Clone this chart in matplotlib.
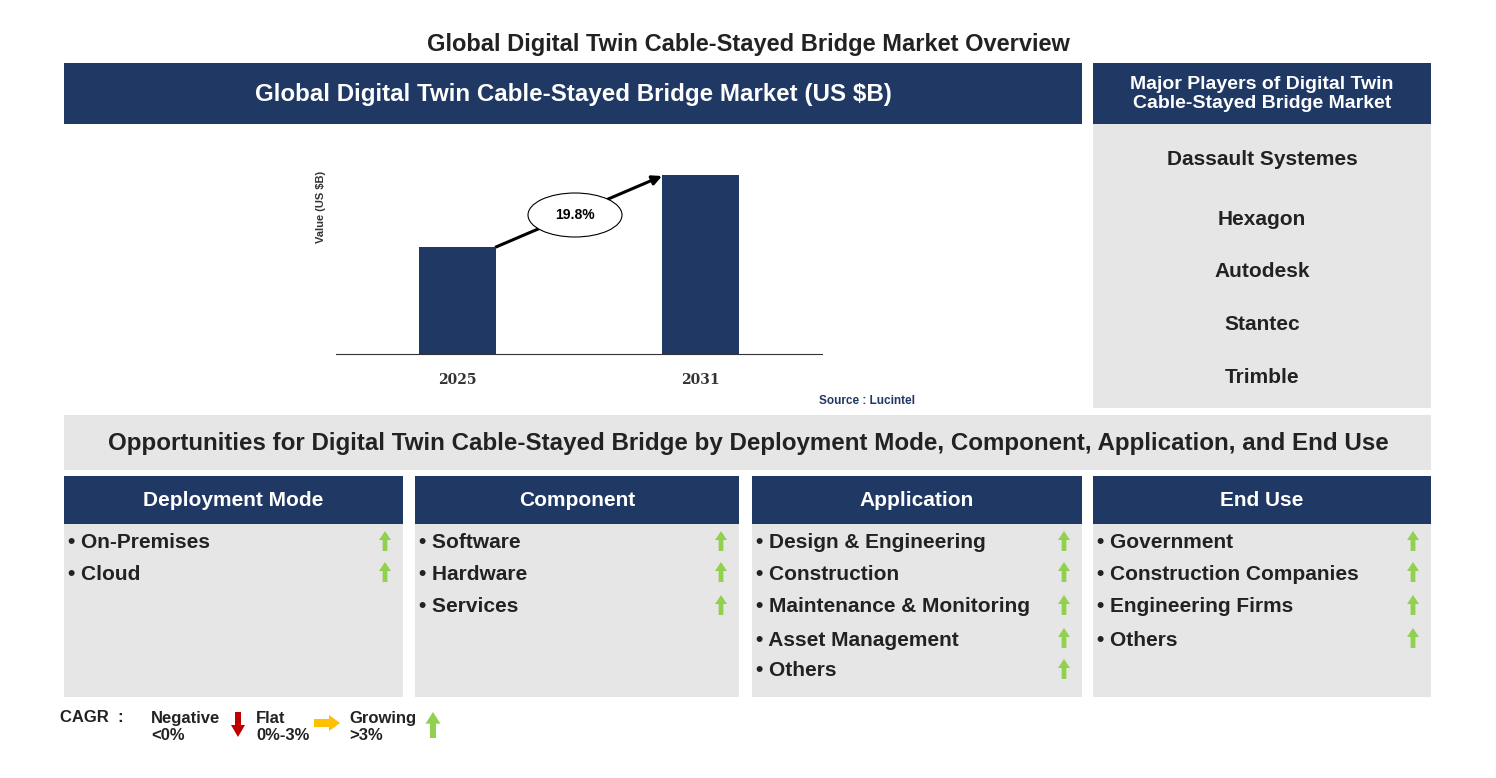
import matplotlib
matplotlib.use("Agg")
import matplotlib.pyplot as plt
from matplotlib.patches import Rectangle, Ellipse, Polygon

NAVY = "#1f3864"
GRAY = "#e7e6e6"
plt.rcParams['font.family'] = ['Liberation Sans', 'DejaVu Sans']

years = ["2025", "2031"]
market_values = [1.07, 1.79]
cagr_label = "19.8%"
players = ["Dassault Systemes", "Hexagon", "Autodesk", "Stantec", "Trimble"]
segments = {
    "Deployment Mode": ["On-Premises", "Cloud"],
    "Component": ["Software", "Hardware", "Services"],
    "Application": ["Design & Engineering", "Construction", "Maintenance & Monitoring",
                    "Asset Management", "Others"],
    "End Use": ["Government", "Construction Companies", "Engineering Firms", "Others"],
}

W, H = 1496, 778
fig = plt.figure(figsize=(W / 100, H / 100), dpi=100)
bg = fig.add_axes([0, 0, 1, 1])
bg.set_xlim(0, W)
bg.set_ylim(H, 0)
bg.axis("off")


def box(x0, y0, x1, y1, color):
    bg.add_patch(Rectangle((x0, y0), x1 - x0, y1 - y0, color=color, lw=0))


def up_arrow(x, y, color="#92d050", h=20, w=12):
    # y is the tip
    sw = w * 0.4
    hh = h * 0.45
    pts = [(x, y), (x + w / 2, y + hh), (x + sw / 2, y + hh), (x + sw / 2, y + h),
           (x - sw / 2, y + h), (x - sw / 2, y + hh), (x - w / 2, y + hh)]
    bg.add_patch(Polygon(pts, closed=True, color=color, lw=0))


bg.text(748, 44, "Global Digital Twin Cable-Stayed Bridge Market Overview",
        ha="center", va="center", fontsize=17, fontweight="bold", color="#222222")

box(64, 63, 1082, 124, NAVY)
bg.text(573, 94, "Global Digital Twin Cable-Stayed Bridge Market (US $B)",
        ha="center", va="center", fontsize=17.4, fontweight="bold", color="white")
box(1093, 63, 1431, 124, NAVY)
bg.text(1262, 94, "Major Players of Digital Twin\nCable-Stayed Bridge Market",
        ha="center", va="center", fontsize=14, fontweight="bold", color="white",
        linespacing=1.15)
box(1093, 124, 1431, 408, GRAY)
for name, y in zip(players, [159, 219, 271, 324, 377]):
    bg.text(1262, y, name, ha="center", va="center", fontsize=15,
            fontweight="bold", color="#222222")

bg.text(867, 401, "Source : Lucintel", ha="center", va="center", fontsize=8.5,
        fontweight="bold", color=NAVY)

box(64, 415, 1431, 470, GRAY)
bg.text(748, 443, "Opportunities for Digital Twin Cable-Stayed Bridge by Deployment Mode, "
        "Component, Application, and End Use", ha="center", va="center",
        fontsize=17.4, fontweight="bold", color="#222222")

cols = [(64, 403), (415, 739), (752, 1082), (1093, 1431)]
rows_y = [543, 574, 607, 640, 671]
for (x0, x1), (title, items) in zip(cols, segments.items()):
    box(x0, 476, x1, 524, NAVY)
    bg.text((x0 + x1) / 2, 500, title, ha="center", va="center", fontsize=15,
            fontweight="bold", color="white")
    box(x0, 524, x1, 697, GRAY)
    for item, y in zip(items, rows_y):
        bg.text(x0 + 4, y, "• " + item, ha="left", va="center", fontsize=15,
                fontweight="bold", color="#222222")
        up_arrow(x1 - 18, y - 12)

# legend
bg.text(60, 718, "CAGR  :", ha="left", va="center", fontsize=12, fontweight="bold", color="#222222")
bg.text(151, 727, "Negative\n<0%", ha="left", va="center", fontsize=12, fontweight="bold",
        color="#222222", linespacing=1.2)
pts = [(238, 737), (245, 725), (241, 725), (241, 712), (235, 712), (235, 725), (231, 725)]
bg.add_patch(Polygon(pts, closed=True, color="#c00000", lw=0))
bg.text(256, 727, "Flat\n0%-3%", ha="left", va="center", fontsize=12, fontweight="bold",
        color="#222222", linespacing=1.2)
pts = [(340, 723), (329, 715), (329, 719), (314, 719), (314, 727), (329, 727), (329, 731)]
bg.add_patch(Polygon(pts, closed=True, color="#ffc000", lw=0))
bg.text(349, 727, "Growing\n>3%", ha="left", va="center", fontsize=12, fontweight="bold",
        color="#222222", linespacing=1.2)
up_arrow(433, 712, h=26, w=15)

# bar chart
ax = fig.add_axes([336 / W, 1 - 354 / H, 486 / W, 189 / H])
ax.bar(range(len(years)), market_values, width=0.317, color=NAVY)
ax.set_xlim(-0.5, 1.5)
ax.set_ylim(0, 1.89)
ax.set_xticks(range(len(years)))
ax.set_xticklabels(years, fontfamily="DejaVu Serif", fontweight="bold", fontsize=10,
                   color="#333333")
ax.tick_params(axis="x", length=0, pad=14)
ax.set_yticks([])
for s in ["top", "right", "left"]:
    ax.spines[s].set_visible(False)
ax.spines["bottom"].set_color("#333333")
ax.patch.set_alpha(0)
ax.set_ylabel("Value (US $B)", fontsize=8, fontweight="bold", color="#333333", labelpad=0)
ax.yaxis.set_label_coords(-0.02, 0.78)

bg.annotate("", xy=(662, 176), xytext=(496, 247),
            arrowprops=dict(arrowstyle="-|>", color="black", lw=2.2, mutation_scale=14,
                            shrinkA=0, shrinkB=0))
bg.add_patch(Ellipse((575, 215), 94, 44, facecolor="white", edgecolor="black", lw=0.8, zorder=5))
bg.text(575, 215, cagr_label, ha="center", va="center", fontsize=10,
        fontweight="bold", zorder=6)

fig.savefig("out.png", dpi=100)
